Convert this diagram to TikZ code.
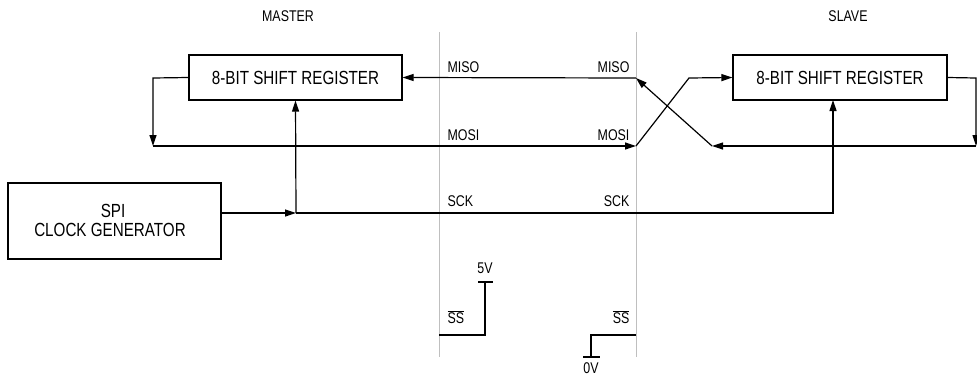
\documentclass[tikz,border=0pt]{standalone}
\usepackage{fontspec}
\setmainfont[FakeStretch=0.8]{Liberation Sans}
\usetikzlibrary{arrows.meta}
\begin{document}
\begin{tikzpicture}[x=1pt,y=-1pt,
  line width=1.2pt,
  tip/.style={-{Triangle[length=11pt,width=7pt]}},
  box/.style={draw,rectangle,inner sep=0pt,font=\fontsize{19}{19}\selectfont,align=center},
  lab/.style={inner sep=0pt,font=\fontsize{15.5}{16}\selectfont},
  sep/.style={draw=black!25,line width=1pt}]
\useasboundingbox (0,0) rectangle (977,375);
% separators
\coordinate (g1t) at (439,32); \coordinate (g1b) at (439,357);
\coordinate (g2t) at (636,32); \coordinate (g2b) at (636,357);
\draw[sep] (g1t) -- (g1b);
\draw[sep] (g2t) -- (g2b);
% boxes
\node[box,minimum width=213pt,minimum height=45pt] (mreg) at (295.5,77.5) {8-BIT SHIFT REGISTER};
\node[box,minimum width=214pt,minimum height=45pt] (sreg) at (840,77.5) {8-BIT SHIFT REGISTER};
\node[box,minimum width=213pt,minimum height=76pt] (clk) at (114.5,221) {};
\node[inner sep=0pt,font=\fontsize{19}{19}\selectfont,anchor=base] (clkt1) at (113,217) {SPI};
\node[inner sep=0pt,font=\fontsize{19}{19}\selectfont,anchor=base] (clkt2) at (110,236) {CLOCK GENERATOR};
% coordinates
\coordinate (mL) at (153,78);
\coordinate (mLd) at (153,146);
\coordinate (mosiE) at (636,146);
\coordinate (misoE) at (636,78);
\coordinate (xA) at (689,78);
\coordinate (sR) at (976,78);
\coordinate (sRd) at (976,146);
\coordinate (xB) at (712,146);
\coordinate (clkE) at (221,213);
\coordinate (sckJ) at (296,213);
\coordinate (sckR) at (833,213);
\coordinate (sckU) at (833,100);
% connectors
\draw[tip] (mreg.west) -- (mL) -- (mLd);
\draw[tip] (mLd) -- (mosiE);
\draw[tip] (mosiE) -- (xA) -- (sreg.west);
\draw[tip] (sreg.east) -- (sR) -- (sRd);
\draw[tip] (sRd) -- (xB);
\draw[tip] (xB) -- (misoE);
\draw[tip] (misoE) -- (mreg.east);
\draw[tip] (clkE) -- (sckJ);
\draw[tip] (sckJ) -- (mreg.south);
\draw[tip] (sckJ) -- (sckR) -- (sckU);
% SS wiring
\coordinate (ssL) at (439,335); \coordinate (ssLc) at (485,335); \coordinate (ssLt) at (485,282);
\coordinate (b5a) at (478,282); \coordinate (b5b) at (493,282);
\coordinate (ssR) at (636,335); \coordinate (ssRc) at (591,335); \coordinate (ssRb) at (591,357);
\coordinate (b0a) at (583,357); \coordinate (b0b) at (600,357);
\draw (ssL) -- (ssLc) -- (ssLt);
\draw (b5a) -- (b5b);
\draw (ssR) -- (ssRc) -- (ssRb);
\draw (b0a) -- (b0b);
% labels
\node[lab,anchor=base] (master) at (288,21) {MASTER};
\node[lab,anchor=base] (slave) at (848,21) {SLAVE};
\node[lab,anchor=base west] (miso1) at (447,72) {MISO};
\node[lab,anchor=base east] (miso2) at (630,72) {MISO};
\node[lab,anchor=base west] (mosi1) at (447,140) {MOSI};
\node[lab,anchor=base east] (mosi2) at (630,140) {MOSI};
\node[lab,anchor=base west] (sck1) at (447,206) {SCK};
\node[lab,anchor=base east] (sck2) at (630,206) {SCK};
\node[lab,anchor=base west] (ss1) at (447,323) {$\overline{\hbox{SS}}$};
\node[lab,anchor=base east] (ss2) at (630,323) {$\overline{\hbox{SS}}$};
\node[lab,anchor=base] (v5) at (485,273) {5V};
\node[lab,anchor=base] (v0) at (591,373) {0V};
\end{tikzpicture}
\end{document}
